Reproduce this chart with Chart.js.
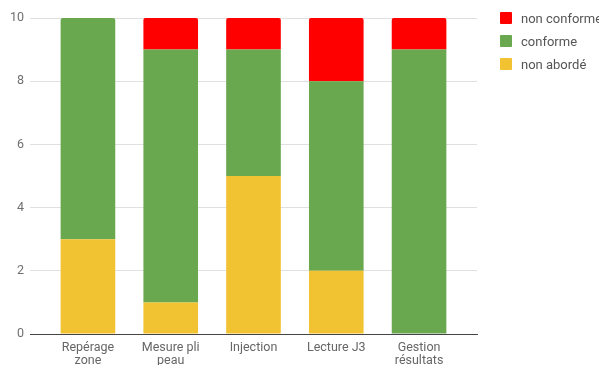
<!DOCTYPE html>
<html lang="fr">
<head>
<meta charset="utf-8">
<script src="https://cdn.jsdelivr.net/npm/chart.js@4"></script>
<style>
  html, body { margin: 0; padding: 0; background: #fff; }
  #wrap { position: relative; width: 599px; height: 365px; overflow: hidden; font-family: Roboto, "Noto Sans", Arial, sans-serif; }
  #legend { position: absolute; left: 500px; top: 12px; margin: 0; padding: 0; list-style: none; white-space: nowrap; }
  #legend li { display: flex; align-items: center; height: 12px; margin-bottom: 11px; font-size: 13px; color: #555; }
  #legend span.box { display: inline-block; width: 12px; height: 12px; border-radius: 1px; margin-right: 9px; }
</style>
</head>
<body>
<div id="wrap">
  <canvas id="c" width="599" height="365"></canvas>
  <ul id="legend"></ul>
</div>
<script>
// Étapes évaluées
const categories = [
  ["Repérage", "zone"],
  ["Mesure pli", "peau"],
  ["Injection"],
  ["Lecture J3"],
  ["Gestion", "résultats"]
];

// Nombre d'évaluations par résultat
const nonAborde   = [3, 1, 5, 2, 0];
const conforme    = [7, 8, 4, 6, 9];
const nonConforme = [0, 1, 1, 2, 1];

const yTicks = [0, 2, 4, 6, 8, 10];

const seriesNames  = ["non abordé", "conforme", "non conforme"];
const seriesColors = ["#f1c232", "#6aa84f", "#ff0000"];
const seriesValues = [nonAborde, conforme, nonConforme];

const toPoints = vals => vals.map((v, i) => ({ x: i, y: v }));

// rounded top corners only on the highest non-empty segment of each stack
function topRadius(ctx) {
  const di = ctx.datasetIndex, i = ctx.dataIndex;
  for (let k = di + 1; k < seriesValues.length; k++) {
    if (seriesValues[k][i] > 0) return 0;
  }
  return { topLeft: 2, topRight: 2, bottomLeft: 0, bottomRight: 0 };
}

const datasets = seriesNames.map((name, k) => ({
  label: name,
  data: toPoints(seriesValues[k]),
  backgroundColor: seriesColors[k],
  borderWidth: 0,
  borderRadius: topRadius,
  borderSkipped: false,
  categoryPercentage: 1,
  barPercentage: 0.66
}));

const chart = new Chart(document.getElementById("c"), {
  type: "bar",
  data: { datasets },
  options: {
    responsive: false,
    animation: false,
    devicePixelRatio: 1,
    layout: { padding: { top: 18, right: 122, bottom: 0, left: 0 } },
    plugins: { legend: { display: false }, tooltip: { enabled: false } },
    scales: {
      x: {
        type: "linear",
        stacked: true,
        offset: false,
        min: -0.7,
        max: 4.7,
        afterBuildTicks: scale => {
          scale.ticks = categories.map((_, i) => ({ value: i }));
        },
        afterFit: scale => { scale.height = 31; },
        grid: { display: false, drawTicks: false },
        border: { display: true, color: "#444", width: 1 },
        ticks: {
          autoSkip: false,
          maxRotation: 0,
          padding: 7,
          color: "#666",
          font: { family: "Roboto", size: 12.5, lineHeight: 1.05 },
          callback: v => categories[v]
        }
      },
      y: {
        stacked: true,
        min: 0,
        max: 10,
        afterBuildTicks: scale => {
          scale.ticks = yTicks.map(v => ({ value: v }));
        },
        afterFit: scale => { scale.width = 30; },
        grid: { color: "#e0e0e0", lineWidth: 1, drawTicks: false },
        border: { display: false },
        ticks: {
          padding: 6,
          color: "#6f6f6f",
          font: { family: "Roboto", size: 12.5 }
        }
      }
    }
  }
});

// legend, top series first
const legend = document.getElementById("legend");
chart.data.datasets.slice().reverse().forEach(ds => {
  const li = document.createElement("li");
  const box = document.createElement("span");
  box.className = "box";
  box.style.background = ds.backgroundColor;
  li.appendChild(box);
  li.appendChild(document.createTextNode(ds.label));
  legend.appendChild(li);
});
</script>
</body>
</html>
